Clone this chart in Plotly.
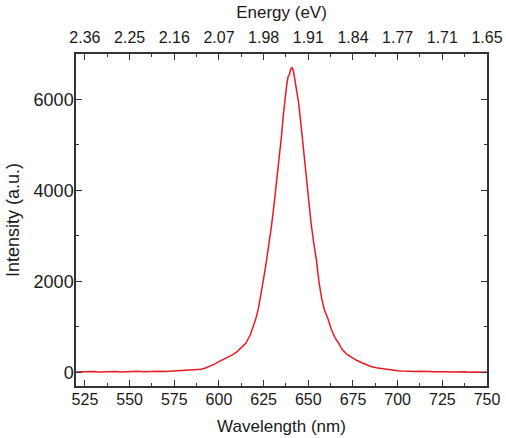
import plotly.graph_objects as go

wavelength = [
    520, 522.5, 525, 527.5, 530, 532.5, 535, 537.5, 540, 542.5, 545, 547.5, 550,
    552.5, 555, 557.5, 560, 562.5, 565, 567.5, 570, 572.5, 575, 577.5, 580,
    582.5, 585, 587.5, 590, 592.5, 595, 597.5, 600, 602.5, 605, 607.5, 610,
    612.5, 615, 617.5, 619, 620.5, 622, 623.5, 625, 626.5, 628, 629.5, 631,
    632.5, 634, 635, 636, 637, 638, 638.7, 639.5, 640.3, 641, 641.7, 642.5,
    643.5, 644.5, 645.5, 646.5, 647.5, 648.5, 650, 651.5, 653, 654.5, 656,
    657.5, 659, 661, 663, 665, 667, 669, 671.5, 674, 677, 680, 682.5, 685,
    688, 691, 694, 697, 700, 702.5, 705, 707.5, 710, 712.5, 715, 717.5, 720,
    722.5, 725, 727.5, 730, 732.5, 735, 737.5, 740, 742.5, 745, 747.5, 750,
]
intensity = [
    8, 14, 5, 12, 18, 9, 15, 6, 13, 20, 10, 16, 8,
    14, 22, 12, 18, 11, 20, 26, 17, 24, 30, 26, 35,
    40, 48, 56, 70, 95, 130, 180, 235, 280, 330, 385, 450,
    535, 640, 820, 990, 1160, 1390, 1700, 2060, 2430, 2800, 3250, 3750,
    4250, 4750, 5200, 5650, 6050, 6350, 6500, 6560, 6680, 6700, 6620, 6450,
    6250, 5950, 5600, 5200, 4800, 4380, 3800, 3300, 2850, 2480, 1980,
    1620, 1370, 1180, 930, 760, 640, 500, 400, 330, 265, 212, 165, 130,
    100, 80, 60, 45, 35, 28, 22, 30, 18, 24, 14, 20, 12,
    18, 9, 16, 7, 13, 5, 11, 3, 10, 6, 2, 8, 4, 9,
]

x_ticks = [525, 550, 575, 600, 625, 650, 675, 700, 725, 750]
x_minor = [537.5, 562.5, 587.5, 612.5, 637.5, 662.5, 687.5, 712.5, 737.5]
energy_labels = ["2.36", "2.25", "2.16", "2.07", "1.98", "1.91", "1.84", "1.77", "1.71", "1.65"]
y_ticks = [0, 2000, 4000, 6000]
y_minor = [1000, 3000, 5000]

font_family = "Liberation Sans, Arial, sans-serif"
axis_color = "#333333"
text_color = "#1a1a1a"


def axis_style(minor_vals, tick_size):
    return dict(
        automargin=False,
        showline=True, linecolor=axis_color, linewidth=1.5,
        ticks="inside", ticklen=6, tickwidth=1.3, tickcolor=axis_color,
        showgrid=False, zeroline=False,
        tickfont=dict(family=font_family, size=tick_size, color=text_color),
        minor=dict(ticks="inside", ticklen=3, tickwidth=1.2, tickcolor=axis_color,
                   tickvals=minor_vals, showgrid=False),
    )


fig = go.Figure()
fig.add_trace(go.Scatter(
    x=wavelength, y=intensity, mode="lines",
    line=dict(color="rgb(235,25,35)", width=1.5),
    showlegend=False, hoverinfo="skip",
))
fig.add_trace(go.Scatter(
    x=wavelength, y=intensity, mode="lines", xaxis="x2",
    line=dict(color="rgba(0,0,0,0)", width=0),
    showlegend=False, hoverinfo="skip",
))

fig.update_layout(
    width=506, height=438,
    margin=dict(l=76, r=19, t=54, b=52),
    paper_bgcolor="white", plot_bgcolor="white",
    font=dict(family=font_family, color=text_color),
    xaxis=dict(
        range=[520, 750], tickvals=x_ticks, ticklabelstandoff=-2,
        title=dict(text="Wavelength (nm)", font=dict(family=font_family, size=17, color=text_color), standoff=13),
        **axis_style(x_minor, 16),
    ),
    xaxis2=dict(
        overlaying="x", side="top", anchor="y",
        range=[520, 750], tickvals=x_ticks, ticktext=energy_labels, ticklabelstandoff=3,
        title=dict(text="Energy (eV)", font=dict(family=font_family, size=17, color=text_color), standoff=6),
        **axis_style(x_minor, 16),
    ),
    yaxis=dict(
        range=[-300, 7000], tickvals=y_ticks, mirror="ticks", ticklabelstandoff=-3,
        title=dict(text="Intensity (a.u.)", font=dict(family=font_family, size=18, color=text_color), standoff=9),
        **axis_style(y_minor, 18),
    ),
)

fig.write_html(
    "out.html",
    post_script="document.body.style.margin='0';document.body.style.overflow='hidden';",
)
